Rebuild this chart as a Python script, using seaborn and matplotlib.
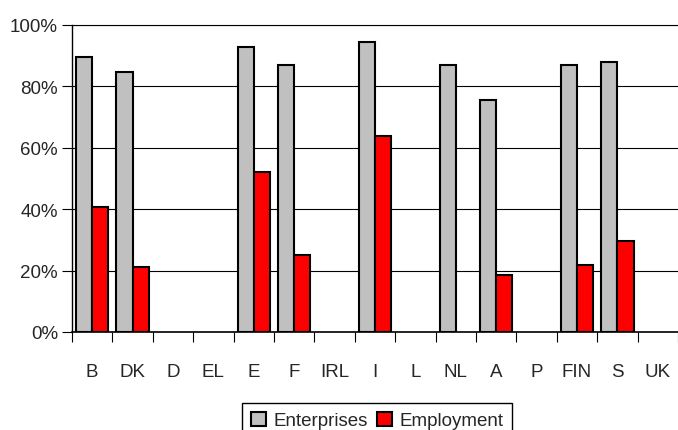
import numpy as np
import pandas as pd
import matplotlib
matplotlib.use("Agg")
import matplotlib.pyplot as plt
import seaborn as sns
from matplotlib.ticker import PercentFormatter

countries = ["B", "DK", "D", "EL", "E", "F", "IRL", "I", "L", "NL", "A", "P", "FIN", "S", "UK"]
enterprises = [89.7, 84.7, None, None, 92.9, 87.1, None, 94.3, None, 87.1, 75.7, None, 87.1, 87.8, None]
employment = [40.6, 21.3, None, None, 52.2, 25.1, None, 63.8, None, None, 18.6, None, 21.9, 29.6, None]

df = pd.DataFrame({
    "country": countries * 2,
    "series": ["Enterprises"] * len(countries) + ["Employment"] * len(countries),
    "value": [np.nan if v is None else v / 100 for v in enterprises + employment],
})

sns.set_style("white")
plt.rcParams["font.family"] = ["Liberation Sans", "DejaVu Sans"]

fig = plt.figure(figsize=(6.78, 4.31), dpi=100)
ax = fig.add_axes([72 / 678, (431 - 333) / 431, 1 - 72 / 678, (333 - 26) / 431])

sns.barplot(data=df, x="country", y="value", hue="series", order=countries,
            hue_order=["Enterprises", "Employment"],
            palette={"Enterprises": "#c0c0c0", "Employment": "#ff0000"},
            saturation=1, edgecolor="black", linewidth=1.5, width=0.8, ax=ax, zorder=3)

ax.set_ylim(0, 1)
ax.set_xlim(-0.5, len(countries) - 0.5)
ax.set_yticks(np.arange(0, 1.01, 0.2))
ax.yaxis.set_major_formatter(PercentFormatter(1.0, decimals=0))
ax.yaxis.grid(True, color="black", linewidth=0.8, zorder=0)
ax.set_axisbelow(True)

ax.set_xticks(np.arange(-0.5, len(countries), 1), minor=True)
ax.tick_params(axis="x", which="major", bottom=True, length=0, pad=22, labelsize=13.5)
ax.tick_params(axis="x", which="minor", bottom=True, length=7, width=0.8, color="black", direction="out")
ax.tick_params(axis="y", left=True, length=7, width=0.8, color="black", direction="out", labelsize=13.5, pad=3)

ax.set_xlabel("")
ax.set_ylabel("")
for side in ["left", "bottom", "top"]:
    ax.spines[side].set_color("black")
    ax.spines[side].set_linewidth(0.8)
ax.spines["left"].set_linewidth(1.0)
ax.spines["bottom"].set_linewidth(1.2)
ax.spines["right"].set_visible(False)

handles, labels = ax.get_legend_handles_labels()
ax.legend_.remove()
fig.legend(handles, labels, loc="upper center", bbox_to_anchor=(377 / 678, 1 - 395 / 431),
           ncol=2, frameon=True, fancybox=False, edgecolor="black", fontsize=13.5,
           handlelength=0.8, handleheight=0.8, handletextpad=0.4, columnspacing=0.5,
           borderpad=0.45, framealpha=1)

fig.savefig("out.png", dpi=100)
